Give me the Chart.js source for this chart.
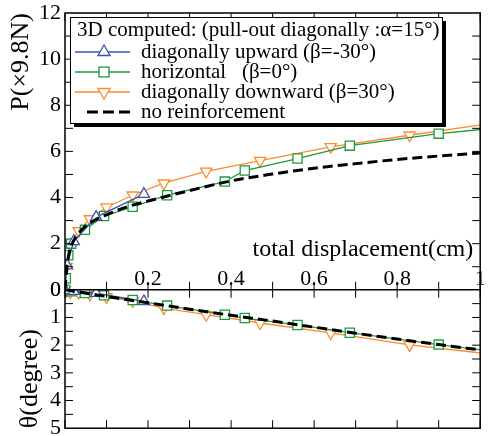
<!DOCTYPE html>
<html>
<head>
<meta charset="utf-8">
<script src="https://cdn.jsdelivr.net/npm/chart.js@4.4.0/dist/chart.umd.min.js"></script>
<style>
html, body { margin: 0; padding: 0; background: #fff; }
#wrap { width: 488px; height: 436px; }
</style>
</head>
<body>
<div id="wrap"><canvas id="chart"></canvas></div>
<script>
// total displacement (cm), load P (x9.8N), rotation theta (degree)
var upX = [0, 0.005, 0.021, 0.075, 0.19];
var upP = [0, 1.05, 2.1, 3.15, 4.15];
var upTheta = [0, 0.02, 0.05, 0.12, 0.42];

var horX = [0, 0.002, 0.008, 0.015, 0.048, 0.094, 0.163, 0.246, 0.385, 0.433, 0.56, 0.686, 0.9, 1.06];
var horP = [0, 0.5, 1.5, 2.0, 2.6, 3.2, 3.6, 4.1, 4.69, 5.17, 5.69, 6.25, 6.77, 7.05];
var horTheta = [0, 0.01, 0.03, 0.05, 0.12, 0.2, 0.37, 0.57, 0.9, 1.02, 1.27, 1.55, 1.98, 2.28];

var downX = [0, 0.004, 0.013, 0.033, 0.06, 0.1, 0.163, 0.238, 0.34, 0.47, 0.64, 0.83, 1.03];
var downP = [0, 1.0, 2.05, 2.55, 3.07, 3.58, 4.1, 4.62, 5.13, 5.6, 6.2, 6.7, 7.22];
var downTheta = [0, 0.03, 0.08, 0.1, 0.17, 0.26, 0.4, 0.66, 0.9, 1.2, 1.56, 1.99, 2.33];

var noneX = [0, 0.004, 0.01, 0.02, 0.04, 0.07, 0.1, 0.15, 0.2, 0.3, 0.4, 0.5, 0.6, 0.7, 0.8, 0.9, 1.0];
var noneP = [0, 0.9, 1.6, 2.1, 2.6, 3.0, 3.25, 3.6, 3.85, 4.3, 4.72, 5.02, 5.27, 5.47, 5.65, 5.8, 5.93];
var noneTheta = [0, 0.01, 0.02, 0.05, 0.1, 0.17, 0.24, 0.36, 0.47, 0.7, 0.92, 1.13, 1.35, 1.57, 1.78, 1.98, 2.17];

var seriesNames = ['diagonally upward (\u03b2=-30\u00b0)', 'horizontal   (\u03b2=0\u00b0)', 'diagonally downward (\u03b2=30\u00b0)', 'no reinforcement'];
var legendTitle = '3D computed: (pull-out diagonally :\u03b1=15\u00b0)';

var xTickMarks = [0, 0.1, 0.2, 0.3, 0.4, 0.5, 0.6, 0.7, 0.8, 0.9, 1];
var xTickLabels = [[0.2, '0.2'], [0.4, '0.4'], [0.6, '0.6'], [0.8, '0.8'], [1, '1']];
var pTickMarks = [1, 2, 3, 4, 5, 6, 7, 8, 9, 10, 11];
var thetaTickMarks = [0.5, 1, 1.5, 2, 2.5, 3, 3.5, 4, 4.5];

var BLUE = '#3a56a8', GREEN = '#1c9a3e', ORANGE = '#ff8a2a';
var FONT = 'Liberation Serif';

Chart.defaults.font.family = FONT;
Chart.defaults.color = '#000';

// theta grows downwards: it is plotted as -theta and the tick labels drop the sign
function pts(xs, ys, sign) {
    var out = [];
    for (var i = 0; i < xs.length; i++) out.push({x: xs[i], y: sign * ys[i]});
    return out;
}

function series(label, xs, ys, axis, color, style, rot) {
    return {
        label: label,
        data: pts(xs, ys, axis == 'y2' ? -1 : 1),
        yAxisID: axis,
        borderColor: color,
        backgroundColor: '#fff',
        borderWidth: 1.3,
        pointStyle: style,
        pointRotation: rot,
        pointRadius: 6.5,
        pointBorderWidth: 1.3,
        pointBackgroundColor: '#fff',
        tension: 0,
        order: 2
    };
}

function dashed(xs, ys, axis) {
    return {
        label: seriesNames[3],
        data: pts(xs, ys, axis == 'y2' ? -1 : 1),
        yAxisID: axis,
        borderColor: '#000',
        borderWidth: 3,
        borderDash: [10, 5],
        pointRadius: 0,
        cubicInterpolationMode: 'monotone',
        order: 1
    };
}

var framePlugin = {
    id: 'frame',
    afterDatasetsDraw: function(chart) {
        var ctx = chart.ctx, a = chart.chartArea;
        var xs = chart.scales.x, ps = chart.scales.y, ts = chart.scales.y2;
        var mid = ps.bottom;
        ctx.save();
        ctx.strokeStyle = '#000';
        ctx.lineWidth = 1;
        ctx.beginPath();
        xTickMarks.forEach(function(v) {
            var px = xs.getPixelForValue(v);
            ctx.moveTo(px, a.top); ctx.lineTo(px, a.top + 8);
            ctx.moveTo(px, mid); ctx.lineTo(px, mid - 8);
            ctx.moveTo(px, mid); ctx.lineTo(px, mid + 8);
            ctx.moveTo(px, a.bottom); ctx.lineTo(px, a.bottom - 8);
        });
        pTickMarks.forEach(function(v) {
            var py = ps.getPixelForValue(v);
            ctx.moveTo(a.left, py); ctx.lineTo(a.left + 8, py);
            ctx.moveTo(a.right, py); ctx.lineTo(a.right - 8, py);
        });
        thetaTickMarks.forEach(function(v) {
            var py = ts.getPixelForValue(-v);
            ctx.moveTo(a.left, py); ctx.lineTo(a.left + 8, py);
            ctx.moveTo(a.right, py); ctx.lineTo(a.right - 8, py);
        });
        ctx.stroke();

        ctx.lineWidth = 1.5;
        ctx.strokeRect(a.left, a.top, a.right - a.left, a.bottom - a.top);
        ctx.beginPath();
        ctx.moveTo(a.left, mid); ctx.lineTo(a.right, mid);
        ctx.stroke();

        ctx.fillStyle = '#000';
        ctx.font = '22px "' + FONT + '"';
        ctx.textAlign = 'center';
        ctx.textBaseline = 'alphabetic';
        xTickLabels.forEach(function(t) {
            ctx.fillText(t[1], xs.getPixelForValue(t[0]), mid - 5);
        });
        ctx.font = '24px "' + FONT + '"';
        ctx.textAlign = 'right';
        ctx.fillText('total displacement(cm)', a.right - 7, mid - 34);
        ctx.restore();
    },
    afterDraw: function(chart) {
        var ctx = chart.ctx, H = Chart.helpers;
        var bx = 70, by = 17, bw = 372, bh = 106;
        ctx.save();
        ctx.fillStyle = '#000';
        ctx.fillRect(bx + 4, by + 4, bw, bh);
        ctx.fillStyle = '#fff';
        ctx.fillRect(bx, by, bw, bh);
        ctx.strokeStyle = '#000';
        ctx.lineWidth = 1;
        ctx.strokeRect(bx + 0.5, by + 0.5, bw, bh);

        ctx.fillStyle = '#000';
        ctx.font = '21px "' + FONT + '"';
        ctx.textAlign = 'left';
        ctx.textBaseline = 'alphabetic';
        ctx.fillText(legendTitle, 77, 36);

        var rows = [
            {color: BLUE, style: 'triangle', rot: 0, r: 7},
            {color: GREEN, style: 'rect', rot: 0, r: 7},
            {color: ORANGE, style: 'triangle', rot: 180, r: 7},
            {color: '#000', style: false, rot: 0, r: 0}
        ];
        rows.forEach(function(r, i) {
            var ly = 52 + i * 20;
            ctx.strokeStyle = r.color;
            if (r.style) {
                ctx.lineWidth = 1.3;
                ctx.setLineDash([]);
                ctx.beginPath();
                ctx.moveTo(75, ly); ctx.lineTo(130, ly);
                ctx.stroke();
                ctx.fillStyle = '#fff';
                H.drawPoint(ctx, {pointStyle: r.style, radius: r.r, rotation: r.rot, borderWidth: 1.3}, 104, ly);
            } else {
                ctx.lineWidth = 3;
                ctx.setLineDash([11, 5]);
                ctx.beginPath();
                ctx.moveTo(87, ly); ctx.lineTo(131, ly);
                ctx.stroke();
                ctx.setLineDash([]);
            }
            ctx.fillStyle = '#000';
            ctx.fillText(seriesNames[i], 141, ly + 6);
        });
        ctx.restore();
    }
};

function fixWidth(scale) {
    scale.width = 65;
    scale.paddingTop = 0;
    scale.paddingBottom = 0;
}

new Chart(document.getElementById('chart'), {
    type: 'line',
    data: {
        datasets: [
            dashed(noneX, noneP, 'y'),
            series(seriesNames[0], upX, upP, 'y', BLUE, 'triangle', 0),
            series(seriesNames[1], horX, horP, 'y', GREEN, 'rect', 0),
            series(seriesNames[2], downX, downP, 'y', ORANGE, 'triangle', 180),
            dashed(noneX, noneTheta, 'y2'),
            series(seriesNames[0], upX, upTheta, 'y2', BLUE, 'triangle', 0),
            series(seriesNames[1], horX, horTheta, 'y2', GREEN, 'rect', 0),
            series(seriesNames[2], downX, downTheta, 'y2', ORANGE, 'triangle', 180)
        ]
    },
    options: {
        responsive: true,
        maintainAspectRatio: false,
        animation: false,
        layout: { padding: { left: 0, top: 13, right: 4, bottom: 4 } },
        plugins: { legend: { display: false }, tooltip: { enabled: false } },
        scales: {
            x: { type: 'linear', min: 0, max: 1, display: false },
            y: {
                type: 'linear', min: 0, max: 12, position: 'left',
                stack: 'panels', stackWeight: 2, weight: 1,
                ticks: { stepSize: 2, padding: 4, autoSkip: false, font: { size: 22 } },
                grid: { display: false, drawTicks: false, tickLength: 0 },
                border: { display: false },
                title: { display: true, text: 'P(\u00d79.8N)', align: 'end', font: { size: 26 }, padding: { top: 6, bottom: 0 } },
                afterFit: fixWidth
            },
            y2: {
                type: 'linear', min: -5, max: 0, position: 'left',
                stack: 'panels', stackWeight: 1, weight: 0,
                ticks: {
                    stepSize: 1, padding: 4, autoSkip: false, font: { size: 22 },
                    callback: function(v) { return String(Math.abs(v)); }
                },
                grid: { display: false, drawTicks: false, tickLength: 0 },
                border: { display: false },
                title: { display: true, text: '\u03b8(degree)', align: 'start', font: { size: 26 }, padding: { top: 15, bottom: 0 } },
                afterFit: fixWidth
            }
        }
    },
    plugins: [framePlugin]
});
</script>
</body>
</html>
